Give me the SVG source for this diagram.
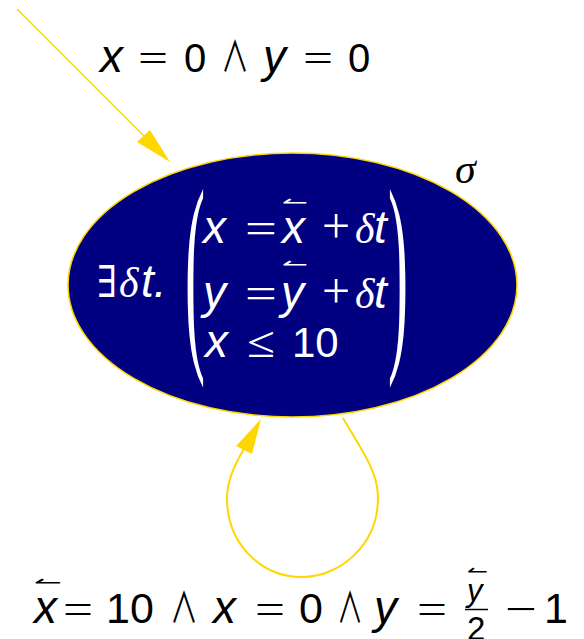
<svg xmlns="http://www.w3.org/2000/svg" width="584" height="639" viewBox="0 0 584 639">
<style>
.si{font-family:"Liberation Sans","DejaVu Sans",sans-serif;font-style:italic}
.s{font-family:"Liberation Sans","DejaVu Sans",sans-serif}
.m{font-family:"Liberation Serif","DejaVu Serif",serif}
.mi{font-family:"Liberation Serif","DejaVu Serif",serif;font-style:italic}
.and{font-family:"Noto Sans CJK JP","DejaVu Sans",sans-serif;font-size:42px}
.a{font-family:"DejaVu Sans",sans-serif;font-size:20px}
.w{fill:#fff}
.k{fill:#000}
.edge{fill:none;stroke:#FFD700}
.head{fill:#FFD700}
</style>
<rect width="584" height="639" fill="#fff"/>
<g id="connectors">
  <line class="edge" x1="17" y1="9" x2="146" y2="138" stroke-width="1.6"/>
  <polygon class="head" points="170,162 137,142 150,130"/>
  <path class="edge" stroke-width="2" d="M343,418 C360,448 378,470 378,498 C378,545 340,577 302,577 C262,577 227,545 227,498 C227,480 236,462 244,449"/>
  <polygon class="head" points="261,419 236,446 252,454"/>
</g>
<g id="init-label" class="k">
  <text class="si" x="100" y="72" font-size="46">x</text>
  <text class="m" x="138" y="72" font-size="40" textLength="30" lengthAdjust="spacingAndGlyphs">=</text>
  <text class="s" x="184" y="72" font-size="40">0</text>
  <text class="and" x="221" y="72" textLength="28" lengthAdjust="spacingAndGlyphs">∧</text>
  <text class="si" x="263" y="72" font-size="46">y</text>
  <text class="m" x="303" y="72" font-size="40" textLength="30" lengthAdjust="spacingAndGlyphs">=</text>
  <text class="s" x="348" y="72" font-size="40">0</text>
</g>
<g id="sigma">
  <ellipse cx="292.5" cy="285" rx="224.5" ry="132" fill="#000080" stroke="#FFD700" stroke-width="1.6"/>
  <g class="w">
    <text class="m" x="97" y="297" font-size="44" textLength="20" lengthAdjust="spacingAndGlyphs">∃</text>
    <text class="mi" x="119" y="297" font-size="42">δ</text>
    <text class="si" x="141" y="297" font-size="46">t.</text>
    <text class="m" transform="translate(185,0) scale(1,3.63)" y="93.9" font-size="60">(</text>
    <text class="m" transform="translate(388,0) scale(1,3.63)" y="93.9" font-size="60">)</text>
    <text class="si" x="203" y="243" font-size="46">x</text>
    <text class="m" x="245" y="243" font-size="44" textLength="32" lengthAdjust="spacingAndGlyphs">=</text>
    <text class="a" x="282" y="208.5" textLength="26" lengthAdjust="spacingAndGlyphs">↼</text>
    <text class="si" x="282" y="243" font-size="46">x</text>
    <text class="m" x="322" y="243" font-size="50">+</text>
    <text class="mi" x="355" y="243" font-size="42">δ</text>
    <text class="si" x="374" y="243" font-size="46">t</text>
    <text class="si" x="203" y="308" font-size="46">y</text>
    <text class="m" x="245" y="308" font-size="44" textLength="32" lengthAdjust="spacingAndGlyphs">=</text>
    <text class="a" x="282" y="270.5" textLength="26" lengthAdjust="spacingAndGlyphs">↼</text>
    <text class="si" x="281" y="308" font-size="46">y</text>
    <text class="m" x="322" y="308" font-size="50">+</text>
    <text class="mi" x="355" y="308" font-size="42">δ</text>
    <text class="si" x="374" y="308" font-size="46">t</text>
    <text class="si" x="205" y="357" font-size="46">x</text>
    <text class="m" x="247" y="357" font-size="44" textLength="28" lengthAdjust="spacingAndGlyphs">≤</text>
    <text class="s" x="292" y="357" font-size="42">10</text>
  </g>
  <text class="mi k" x="455" y="183" font-size="42">σ</text>
</g>
<g id="loop-label" class="k">
  <text class="a" x="34" y="588.5" textLength="28" lengthAdjust="spacingAndGlyphs">↼</text>
  <text class="si" x="34" y="623" font-size="46">x</text>
  <text class="m" x="63" y="623" font-size="42" textLength="30" lengthAdjust="spacingAndGlyphs">=</text>
  <text class="s" x="106" y="623" font-size="43">10</text>
  <text class="and" x="170" y="623" textLength="28" lengthAdjust="spacingAndGlyphs">∧</text>
  <text class="si" x="213" y="623" font-size="46">x</text>
  <text class="m" x="255" y="623" font-size="42" textLength="30" lengthAdjust="spacingAndGlyphs">=</text>
  <text class="s" x="299" y="623" font-size="43">0</text>
  <text class="and" x="337" y="623" textLength="26" lengthAdjust="spacingAndGlyphs">∧</text>
  <text class="si" x="374" y="623" font-size="46">y</text>
  <text class="m" x="417" y="623" font-size="42" textLength="30" lengthAdjust="spacingAndGlyphs">=</text>
  <text class="a" x="467" y="577.5" textLength="21" lengthAdjust="spacingAndGlyphs">↼</text>
  <text class="si" x="467" y="601" font-size="31">y</text>
  <line x1="465" y1="609.5" x2="488" y2="609.5" stroke="#000" stroke-width="1.5"/>
  <text class="s" x="467" y="640" font-size="33">2</text>
  <text class="m" x="505" y="623" font-size="42" textLength="32" lengthAdjust="spacingAndGlyphs">−</text>
  <text class="s" x="544" y="623" font-size="43">1</text>
</g>
</svg>
